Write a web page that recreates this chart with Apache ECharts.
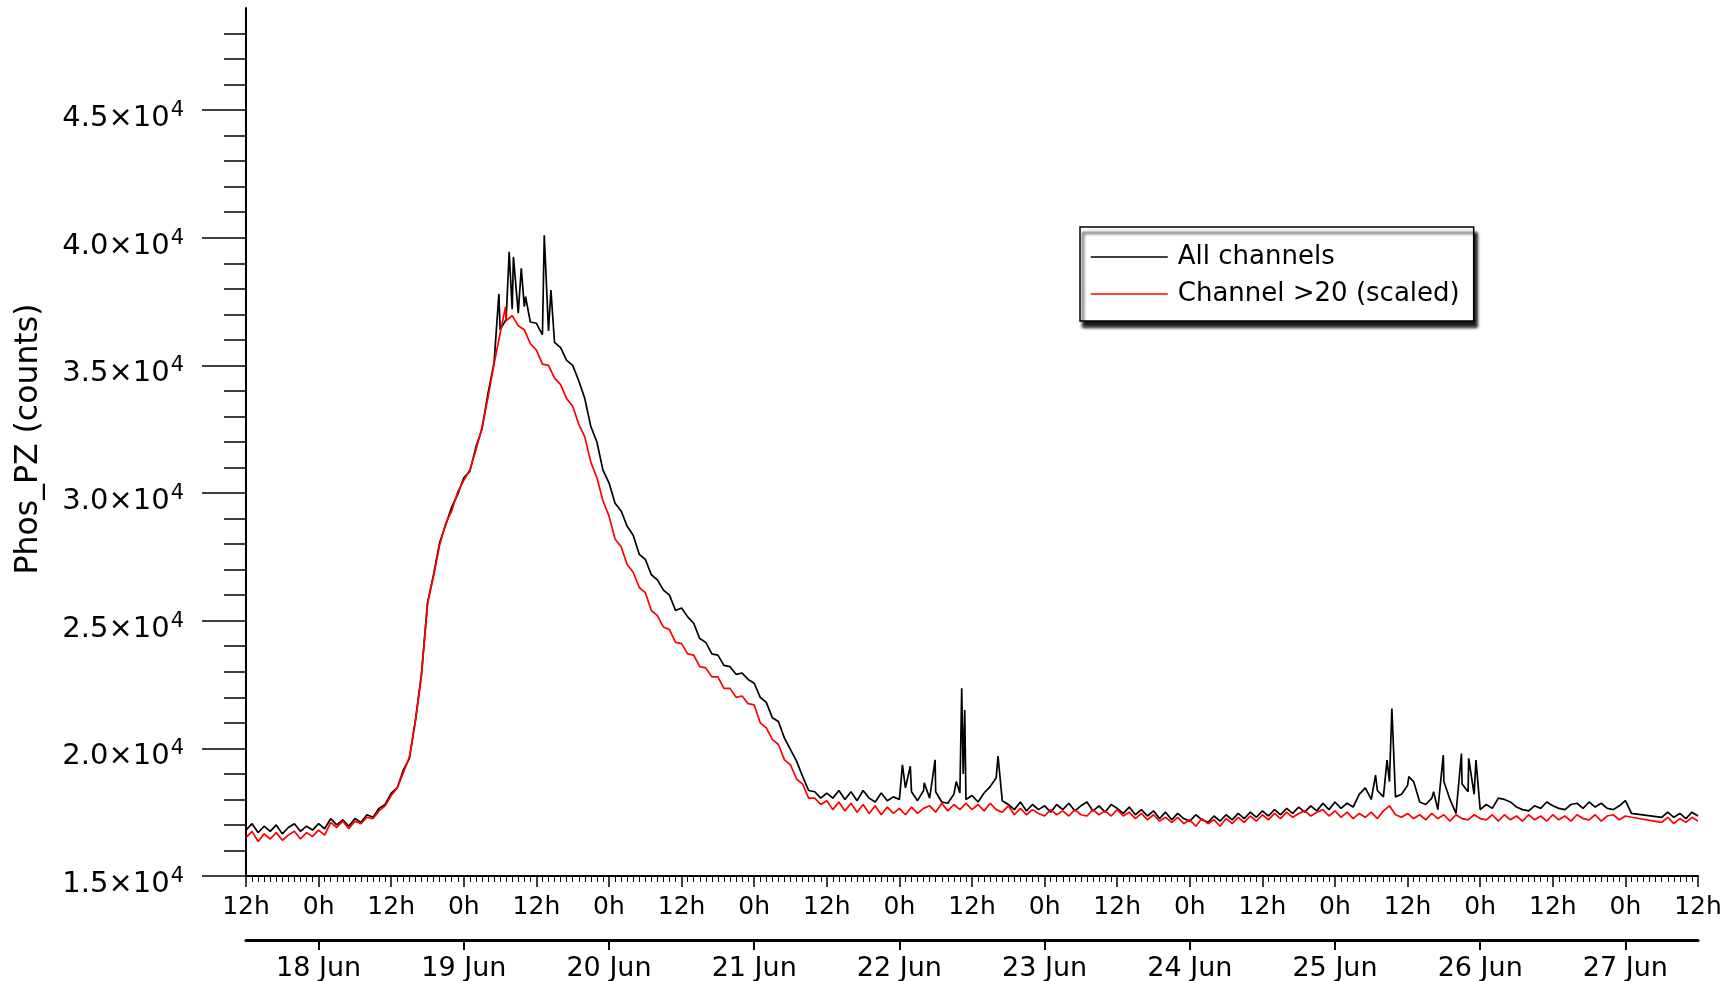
<!DOCTYPE html>
<html>
<head>
<meta charset="utf-8">
<title>Phos_PZ counts</title>
<script src="https://cdn.jsdelivr.net/npm/echarts@6/dist/echarts.min.js"></script>
<style>
  html, body { margin: 0; padding: 0; background: #fff; }
  #chart { width: 1736px; height: 981px; }
</style>
</head>
<body>
<div id="chart"></div>
<script>
// Hours since 17 Jun 12:00, one reading per hour; null marks the data gap on 27 Jun.
const allChannels = [
  16800, 17050, 16700, 16950, 16750, 17000, 16650, 16900, 17050, 16750, 16950, 16800,
  17050, 16850, 17250, 17000, 17200, 16950, 17250, 17100, 17400, 17300, 17650, 17800,
  18250, 18450, 19150, 19600, 21100, 22900, 25700, 26800, 28050, 28750, 29450, 29950,
  30600, 30850, 31800, 32500, 33900, 35100, 36400, 36800, 37200, 37050, 37300, 36700,
  36650, 36200, 36350, 35900, 35700, 35200, 35000, 34400, 33700, 32600, 32000, 30900,
  30400, 29600, 29300, 28700, 28350, 27600, 27400, 26800, 26600, 26200, 26000, 25400,
  25500, 25150, 24900, 24300, 24150, 23700, 23650, 23250, 23200, 22900, 22950, 22700,
  22550, 22000, 21800, 21200, 21050, 20400, 19950, 19500, 18900, 18350, 18300, 18050,
  18250, 18050, 18350, 18000, 18300, 17950, 18350, 18050, 17900, 18250, 17950, 18100,
  18000, 18450, 18300, 17950, 18350, 18050, 18300, 17900, 17850, 18200, 18250, 18000,
  18150, 17900, 18250, 18500, 18850, 17950, 17800, 17600, 17900, 17550, 17800, 17600,
  17750, 17500, 17800, 17600, 17850, 17550, 17750, 17900, 17550, 17750, 17500, 17800,
  17650, 17450, 17700, 17400, 17600, 17350, 17550, 17250, 17500, 17200, 17450, 17250,
  17150, 17400, 17200, 17100, 17350, 17150, 17400, 17200, 17450, 17250, 17500, 17300,
  17550, 17350, 17600, 17400, 17650, 17450, 17700, 17500, 17750, 17550, 17850, 17600,
  17900, 17650, 17850, 17700, 18200, 18450, 18000, 18350, 18100, 18700, 18100, 18200,
  18550, 18700, 17900, 17800, 18050, 17600, 18700, 18000, 17450, 18600, 18300, 18200,
  17600, 17800, 17650, 18050, 18000, 17900, 17700, 17600, 17550, 17750, 17650, 17900,
  17750, 17650, 17600, 17800, 17850, 17650, 17900, 17700, 17850, 17650, 17600, 17750,
  17950, 17450, null, null, null, null, 17300, 17500, 17300, 17450, 17250, 17500,
  17350
];

const channel20 = [
  16500, 16750, 16350, 16650, 16450, 16700, 16400, 16600, 16750, 16450, 16700, 16550,
  16800, 16600, 17100, 16900, 17150, 16850, 17150, 17050, 17300, 17250, 17550, 17750,
  18150, 18450, 19050, 19650, 21050, 22850, 25650, 26750, 27950, 28800, 29300, 30050,
  30500, 30900, 31700, 32550, 33750, 35050, 36250, 36750, 36950, 36550, 36400, 35850,
  35600, 35050, 35000, 34500, 34250, 33700, 33400, 32700, 32200, 31200, 30600, 29700,
  29100, 28200, 27900, 27200, 26900, 26300, 26100, 25400, 25200, 24750, 24650, 24150,
  24100, 23700, 23650, 23200, 23150, 22800, 22800, 22350, 22350, 22000, 22050, 21750,
  21700, 21000, 20800, 20350, 20150, 19550, 19350, 18800, 18600, 18050, 18050, 17800,
  17950, 17600, 17900, 17550, 17850, 17500, 17800, 17450, 17750, 17400, 17700, 17450,
  17650, 17400, 17700, 17450, 17650, 17750, 17500, 17850, 17550, 17800, 17600, 17850,
  17600, 17800, 17550, 17850, 17600, 17500, 17750, 17400, 17650, 17400, 17600, 17450,
  17350, 17600, 17400, 17550, 17350, 17600, 17400, 17350, 17600, 17400, 17550, 17350,
  17600, 17350, 17500, 17250, 17450, 17200, 17400, 17150, 17300, 17100, 17300, 17050,
  17200, 16950, 17250, 17050, 17200, 16950, 17250, 17050, 17300, 17100, 17350, 17150,
  17400, 17200, 17450, 17250, 17500, 17300, 17450, 17550, 17350, 17500, 17600, 17350,
  17550, 17300, 17500, 17250, 17450, 17300, 17500, 17250, 17550, 17750, 17400, 17300,
  17450, 17250, 17400, 17200, 17450, 17250, 17400, 17150, 17400, 17250, 17200, 17400,
  17250, 17200, 17400, 17150, 17400, 17200, 17350, 17150, 17400, 17200, 17350, 17150,
  17400, 17200, 17350, 17150, 17400, 17250, 17200, 17400, 17150, 17350, 17400, 17200,
  17350, 17300, null, null, null, null, 17100, 17300, 17050, 17250, 17100, 17300,
  17150
];

// Short bursts between the hourly readings: [hour, counts]
const allSpikes = [
  [41.8, 37800], [43.5, 39450], [44.2, 39250], [45.5, 38800], [46.2, 37700],
  [49.3, 40100], [50.4, 37950],
  [108.5, 19350], [109.8, 19300], [112.1, 18650], [113.9, 19550], [117.4, 18700],
  [118.3, 22350], [118.55, 19000], [118.8, 21500], [124.3, 19700],
  [186.7, 18950], [188.6, 19540], [189.4, 21560], [192.2, 18890], [196.3, 18300],
  [197.9, 19740], [200.9, 19800], [202.1, 19610], [203.3, 19540]
];
const channel20Spikes = [[42.9, 37300]];

const yTickValues = [15000, 20000, 25000, 30000, 35000, 40000, 45000];
const hourLabels = ['12h', '0h'];
const dateTicks = [12, 36, 60, 84, 108, 132, 156, 180, 204, 228];
const dateLabels = ['18 Jun', '19 Jun', '20 Jun', '21 Jun', '22 Jun',
                    '23 Jun', '24 Jun', '25 Jun', '26 Jun', '27 Jun'];

const FONT = 'DejaVu Sans';

// minor y ticks every 1000 counts between the labelled ones
const yMinorTicks = [];
for (let v = 16000; v <= 48000; v += 1000) {
  if (v % 5000 !== 0) yMinorTicks.push(v);
}

function toPoints(hourly, spikes) {
  const pts = [];
  hourly.forEach((v, h) => { if (v !== null) pts.push([h, v]); });
  spikes.forEach(p => pts.push(p));
  pts.sort((a, b) => a[0] - b[0]);
  return pts;
}

const chart = echarts.init(document.getElementById('chart'));

chart.setOption({
  animation: false,
  backgroundColor: '#fff',
  grid: { left: 246, right: 38, top: 8, bottom: 105, outerBoundsMode: 'none' },
  xAxis: [
    {
      type: 'value', position: 'bottom', min: 0, max: 240, interval: 12,
      axisLine: { onZero: false, lineStyle: { color: '#000', width: 2 } },
      axisTick: { length: 11, lineStyle: { color: '#000', width: 1.5 } },
      minorTick: { show: true, splitNumber: 12, length: 6, lineStyle: { color: '#000', width: 1 } },
      splitLine: { show: false },
      axisLabel: {
        margin: 19, color: '#000', fontFamily: FONT, fontSize: 25,
        formatter: v => hourLabels[Math.round(v / 12) % 2]
      }
    },
    {
      type: 'value', position: 'bottom', offset: 64, min: 0, max: 240,
      axisLine: { onZero: false, lineStyle: { color: '#000', width: 3 } },
      axisTick: { customValues: dateTicks, length: 10, lineStyle: { color: '#000', width: 2 } },
      splitLine: { show: false },
      axisLabel: {
        customValues: dateTicks, margin: 15, color: '#000', fontFamily: FONT, fontSize: 27,
        formatter: v => dateLabels[dateTicks.indexOf(v)]
      }
    }
  ],
  yAxis: [
    {
      type: 'value', position: 'left', min: 15000, max: 49000,
      name: 'Phos_PZ (counts)', nameLocation: 'middle', nameRotate: 90, nameGap: 201,
      nameTextStyle: { color: '#000', fontFamily: FONT, fontSize: 31.5, padding: [0, 0, 0, 6] },
      axisLine: { lineStyle: { color: '#000', width: 2 } },
      axisTick: { customValues: yTickValues, length: 44, lineStyle: { color: '#000', width: 1.5 } },
      splitLine: { show: false },
      axisLabel: {
        customValues: yTickValues, margin: 62,
        formatter: v => `{m|${(v / 1e4).toFixed(1)}×10}{e|4}`,
        rich: {
          m: { fontFamily: FONT, fontSize: 29, color: '#000', lineHeight: 30, padding: [17, 0, 0, 0] },
          e: { fontFamily: FONT, fontSize: 21, color: '#000', lineHeight: 20, verticalAlign: 'top', padding: [5, 0, 0, 1] }
        }
      }
    },
    {
      type: 'value', position: 'left', min: 15000, max: 49000,
      axisLine: { show: false },
      axisTick: { customValues: yMinorTicks, length: 22, lineStyle: { color: '#000', width: 1.5 } },
      axisLabel: { show: false },
      splitLine: { show: false }
    }
  ],
  legend: {
    orient: 'vertical', left: 1080, top: 227,
    padding: [17, 14, 14, 10],
    itemWidth: 77, itemHeight: 14, itemGap: 11,
    backgroundColor: '#fff', borderColor: '#000', borderWidth: 1.5, borderRadius: 0,
    shadowColor: 'rgba(0,0,0,0.9)', shadowBlur: 3, shadowOffsetX: 3, shadowOffsetY: 6,
    itemStyle: { opacity: 0 },
    lineStyle: { width: 1.5 },
    textStyle: { color: '#000', fontFamily: FONT, fontSize: 26, padding: [0, 0, 0, 5] },
    data: ['All channels', 'Channel >20 (scaled)']
  },
  series: [
    {
      name: 'All channels', type: 'line', xAxisIndex: 0, yAxisIndex: 0,
      symbol: 'none', sampling: null,
      lineStyle: { color: '#000', width: 1.7 }, itemStyle: { color: '#000' },
      data: toPoints(allChannels, allSpikes)
    },
    {
      name: 'Channel >20 (scaled)', type: 'line', xAxisIndex: 0, yAxisIndex: 0,
      symbol: 'none', sampling: null,
      lineStyle: { color: '#ff0000', width: 1.7 }, itemStyle: { color: '#ff0000' },
      data: toPoints(channel20, channel20Spikes)
    }
  ]
});
</script>
</body>
</html>
